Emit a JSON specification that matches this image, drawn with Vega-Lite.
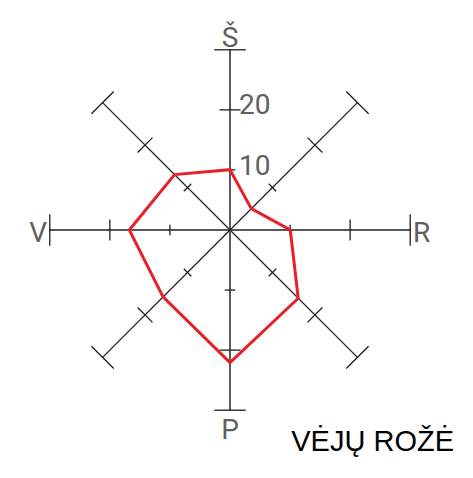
{
  "$schema": "https://vega.github.io/schema/vega-lite/v6.json",
  "width": 473,
  "height": 478,
  "autosize": {"type": "none"},
  "padding": 0,
  "background": "white",
  "config": {"view": {"stroke": null}},
  "title": {
    "text": "VĖJŲ ROŽĖ",
    "orient": "bottom",
    "anchor": "end",
    "frame": "group",
    "offset": -27.3,
    "dx": -19,
    "baseline": "alphabetic",
    "font": "Liberation Sans",
    "fontSize": 29,
    "fontWeight": "normal",
    "color": "#000000"
  },
  "datasets": {
    "rose": [
      {"dir": "Š", "deg": 0, "value": 10},
      {"dir": "ŠR", "deg": 45, "value": 5},
      {"dir": "R", "deg": 90, "value": 10},
      {"dir": "PR", "deg": 135, "value": 16},
      {"dir": "P", "deg": 180, "value": 22},
      {"dir": "PV", "deg": 225, "value": 15.7},
      {"dir": "V", "deg": 270, "value": 16.7},
      {"dir": "ŠV", "deg": 315, "value": 13}
    ],
    "grid": [
      {"deg": 0, "r": 10}, {"deg": 0, "r": 20}, {"deg": 0, "r": 30},
      {"deg": 45, "r": 10}, {"deg": 45, "r": 20}, {"deg": 45, "r": 30},
      {"deg": 90, "r": 10}, {"deg": 90, "r": 20}, {"deg": 90, "r": 30},
      {"deg": 135, "r": 10}, {"deg": 135, "r": 20}, {"deg": 135, "r": 30},
      {"deg": 180, "r": 10}, {"deg": 180, "r": 20}, {"deg": 180, "r": 30},
      {"deg": 225, "r": 10}, {"deg": 225, "r": 20}, {"deg": 225, "r": 30},
      {"deg": 270, "r": 10}, {"deg": 270, "r": 20}, {"deg": 270, "r": 30},
      {"deg": 315, "r": 10}, {"deg": 315, "r": 20}, {"deg": 315, "r": 30}
    ],
    "scalelabels": [
      {"label": "10", "v": 10},
      {"label": "20", "v": 20}
    ]
  },
  "layer": [
    {
      "data": {"name": "rose"},
      "transform": [
        {"calculate": "0", "as": "cx"},
        {"calculate": "30 * sin(datum.deg * PI / 180)", "as": "ex"},
        {"calculate": "30 * cos(datum.deg * PI / 180)", "as": "ey"}
      ],
      "mark": {"type": "rule"},
      "encoding": {
        "x": {"field": "cx", "type": "quantitative", "scale": {"domain": [-38.143, 40.299], "nice": false, "zero": false}, "axis": null},
        "y": {"field": "cx", "type": "quantitative", "scale": {"domain": [-41.128, 38.143], "nice": false, "zero": false}, "axis": null},
        "x2": {"field": "ex"},
        "y2": {"field": "ey"},
        "stroke": {"condition": {"test": "datum.deg == 0 || datum.deg == 180", "value": "#5a5a5a"}, "value": "#1e1e1e"},
        "strokeWidth": {"condition": {"test": "datum.deg == 0 || datum.deg == 180", "value": 2}, "value": 1.3}
      }
    },
    {
      "data": {"name": "grid"},
      "transform": [
        {"calculate": "datum.r * sin((datum.deg - 5) * PI / 180)", "as": "ax"},
        {"calculate": "datum.r * cos((datum.deg - 5) * PI / 180)", "as": "ay"},
        {"calculate": "datum.r * sin((datum.deg + 5) * PI / 180)", "as": "bx"},
        {"calculate": "datum.r * cos((datum.deg + 5) * PI / 180)", "as": "by"}
      ],
      "mark": {"type": "rule", "color": "#1e1e1e", "strokeWidth": 1.3},
      "encoding": {
        "x": {"field": "ax", "type": "quantitative"},
        "y": {"field": "ay", "type": "quantitative"},
        "x2": {"field": "bx"},
        "y2": {"field": "by"}
      }
    },
    {
      "data": {"name": "rose"},
      "transform": [
        {"calculate": "datum.value * sin(datum.deg * PI / 180)", "as": "px"},
        {"calculate": "datum.value * cos(datum.deg * PI / 180)", "as": "py"}
      ],
      "mark": {"type": "line", "interpolate": "linear-closed", "color": "#e8202a", "strokeWidth": 3},
      "encoding": {
        "x": {"field": "px", "type": "quantitative"},
        "y": {"field": "py", "type": "quantitative"},
        "order": {"field": "deg", "type": "quantitative"}
      }
    },
    {
      "data": {"name": "rose"},
      "transform": [
        {"filter": "datum.dir == 'Š'"},
        {"calculate": "30 * sin(datum.deg * PI / 180)", "as": "ex"},
        {"calculate": "30 * cos(datum.deg * PI / 180)", "as": "ey"}
      ],
      "mark": {"type": "text", "align": "center", "baseline": "alphabetic", "dy": -2.6, "font": "Liberation Sans Narrow, Roboto, sans-serif", "fontSize": 28, "color": "#606060"},
      "encoding": {
        "x": {"field": "ex", "type": "quantitative"},
        "y": {"field": "ey", "type": "quantitative"},
        "text": {"field": "dir"}
      }
    },
    {
      "data": {"name": "rose"},
      "transform": [
        {"filter": "datum.dir == 'P'"},
        {"calculate": "30 * sin(datum.deg * PI / 180)", "as": "ex"},
        {"calculate": "30 * cos(datum.deg * PI / 180)", "as": "ey"}
      ],
      "mark": {"type": "text", "align": "center", "baseline": "alphabetic", "dy": 28, "font": "Liberation Sans Narrow, Roboto, sans-serif", "fontSize": 28, "color": "#606060"},
      "encoding": {
        "x": {"field": "ex", "type": "quantitative"},
        "y": {"field": "ey", "type": "quantitative"},
        "text": {"field": "dir"}
      }
    },
    {
      "data": {"name": "rose"},
      "transform": [
        {"filter": "datum.dir == 'R'"},
        {"calculate": "30 * sin(datum.deg * PI / 180)", "as": "ex"},
        {"calculate": "30 * cos(datum.deg * PI / 180)", "as": "ey"}
      ],
      "mark": {"type": "text", "align": "left", "baseline": "alphabetic", "dx": 2, "dy": 12, "font": "Liberation Sans Narrow, Roboto, sans-serif", "fontSize": 28, "color": "#606060"},
      "encoding": {
        "x": {"field": "ex", "type": "quantitative"},
        "y": {"field": "ey", "type": "quantitative"},
        "text": {"field": "dir"}
      }
    },
    {
      "data": {"name": "rose"},
      "transform": [
        {"filter": "datum.dir == 'V'"},
        {"calculate": "30 * sin(datum.deg * PI / 180)", "as": "ex"},
        {"calculate": "30 * cos(datum.deg * PI / 180)", "as": "ey"}
      ],
      "mark": {"type": "text", "align": "right", "baseline": "alphabetic", "dx": -2, "dy": 11.7, "font": "Liberation Sans Narrow, Roboto, sans-serif", "fontSize": 28, "color": "#606060"},
      "encoding": {
        "x": {"field": "ex", "type": "quantitative"},
        "y": {"field": "ey", "type": "quantitative"},
        "text": {"field": "dir"}
      }
    },
    {
      "data": {"name": "scalelabels"},
      "transform": [
        {"calculate": "0", "as": "cx"}
      ],
      "mark": {"type": "text", "align": "left", "baseline": "alphabetic", "dx": 9, "dy": 5, "font": "Liberation Sans Narrow, Roboto, sans-serif", "fontSize": 28, "color": "#606060"},
      "encoding": {
        "x": {"field": "cx", "type": "quantitative"},
        "y": {"field": "v", "type": "quantitative"},
        "text": {"field": "label"}
      }
    }
  ]
}
